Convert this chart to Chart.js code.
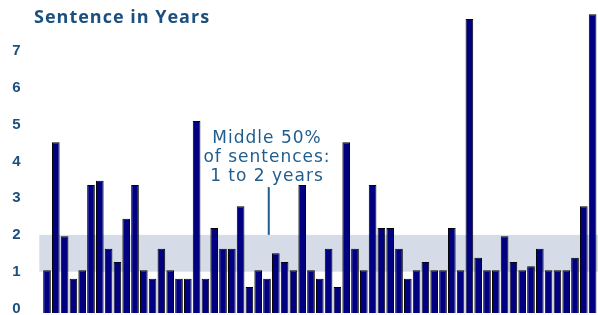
<!DOCTYPE html>
<html>
<head>
<meta charset="utf-8">
<script src="https://cdn.jsdelivr.net/npm/chart.js@4"></script>
<style>
  html, body { margin: 0; padding: 0; background: #fff; }
  #wrap { position: relative; width: 598px; height: 315px; }
  #title {
    position: absolute; left: 34px; top: 4px;
    font: bold 18px "Open Sans"; letter-spacing: 1px; color: #1a4f80; white-space: nowrap;
  }
  #note {
    position: absolute; left: 187px; top: 128px; width: 160px;
    text-align: center; font: 17px "DejaVu Sans"; letter-spacing: 1px;
    line-height: 19px; color: #1f5d8e; white-space: nowrap;
  }
</style>
</head>
<body>
<div id="wrap">
  <canvas id="chart" width="598" height="315"></canvas>
  <div id="title">Sentence in Years</div>
  <div id="note">Middle 50%<br>of sentences:<br>1 to 2 years</div>
</div>
<script>
// one bar per sentence, in years
const sentenceYears = [
  1.04, 4.52, 1.96, 0.81, 1.04, 3.36, 3.47, 1.62, 1.26, 2.44,
  3.36, 1.04, 0.81, 1.62, 1.04, 0.81, 0.81, 5.10, 0.81, 2.19,
  1.62, 1.62, 2.78, 0.58, 1.04, 0.81, 1.50, 1.26, 1.04, 3.36,
  1.04, 0.81, 1.62, 0.58, 4.52, 1.62, 1.04, 3.36, 2.19, 2.19,
  1.62, 0.81, 1.04, 1.26, 1.04, 1.04, 2.19, 1.04, 7.87, 1.38,
  1.04, 1.04, 1.96, 1.26, 1.04, 1.15, 1.62, 1.04, 1.04, 1.04,
  1.38, 2.78, 8.00
];
const caseLabels = sentenceYears.map((_, i) => 'Case ' + (i + 1));
const yTicks = [0, 1, 2, 3, 4, 5, 6, 7];
const middleRange = [1, 2];   // middle 50% of sentences
const noteAt = 25.2;          // category where the note's pointer sits
const noteTop = 3.3;          // pointer starts here (years)

const bandPlugin = {
  id: 'middleBand',
  beforeDatasetsDraw(chart) {
    const { ctx, chartArea, scales: { x, y } } = chart;
    const top = y.getPixelForValue(middleRange[1]);
    const bottom = y.getPixelForValue(middleRange[0]);
    const left = chartArea.left - 3.3;
    ctx.save();
    ctx.fillStyle = '#d5dce7';
    ctx.fillRect(left, top, chart.width - left, bottom - top);
    const lx = x.getPixelForValue(noteAt);
    ctx.strokeStyle = '#1f5d8e';
    ctx.lineWidth = 2;
    ctx.beginPath();
    ctx.moveTo(lx, y.getPixelForValue(noteTop));
    ctx.lineTo(lx, top);
    ctx.stroke();
    ctx.restore();
  }
};

const ctx = document.getElementById('chart').getContext('2d');
new Chart(ctx, {
  type: 'bar',
  data: {
    labels: caseLabels,
    datasets: [{
      data: sentenceYears,
      backgroundColor: '#000080',
      borderColor: '#000000',
      borderWidth: 1,
      base: -0.125,
      barPercentage: 0.87,
      categoryPercentage: 1
    }]
  },
  options: {
    responsive: false,
    animation: false,
    layout: { padding: { top: 0, right: 1, bottom: 2, left: 0 } },
    plugins: {
      legend: { display: false },
      tooltip: { enabled: false }
    },
    scales: {
      x: { display: false },
      y: {
        min: -0.125,
        max: 8.39,
        afterBuildTicks: (s) => { s.ticks = yTicks.map(v => ({ value: v })); },
        afterFit: (s) => { s.width = 42.6; s.paddingTop = 0; s.paddingBottom = 0; },
        grid: { display: false, drawTicks: false },
        border: { display: false },
        ticks: {
          padding: 22,
          crossAlign: 'center',
          color: '#1a4f80',
          font: { family: 'Liberation Sans', weight: 'bold', size: 15 }
        }
      }
    }
  },
  plugins: [bandPlugin]
});
</script>
</body>
</html>
